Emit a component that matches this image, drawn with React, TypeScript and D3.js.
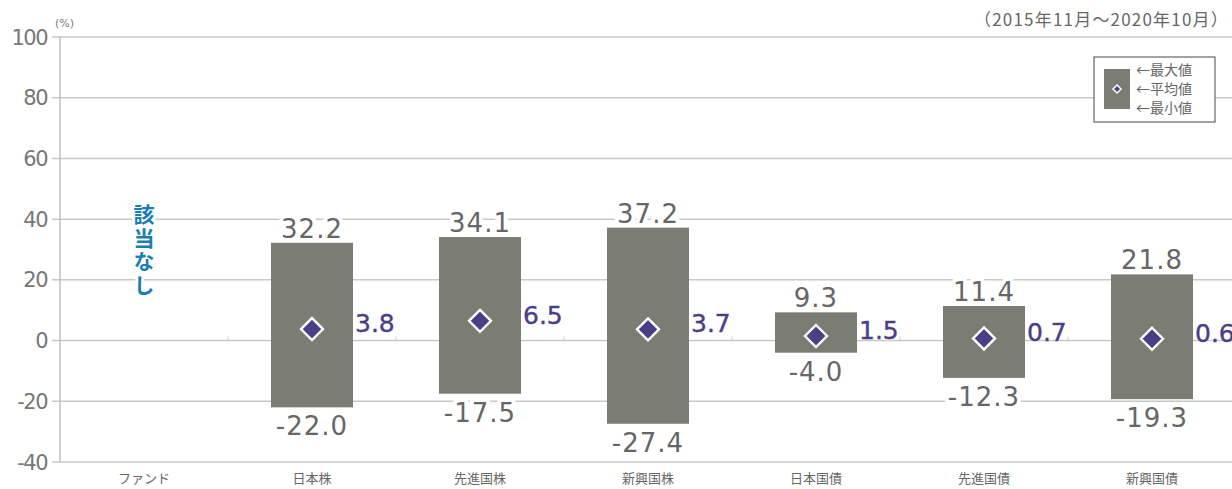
import React from "react";
import * as d3 from "d3";

const categories = ["ファンド", "日本株", "先進国株", "新興国株", "日本国債", "先進国債", "新興国債"];
const maxValues: (number | null)[] = [null, 32.2, 34.1, 37.2, 9.3, 11.4, 21.8];
const meanValues: (number | null)[] = [null, 3.8, 6.5, 3.7, 1.5, 0.7, 0.6];
const minValues: (number | null)[] = [null, -22.0, -17.5, -27.4, -4.0, -12.3, -19.3];
const yTicks = [100, 80, 60, 40, 20, 0, -20, -40];
const legendLabels = ["←最大値", "←平均値", "←最小値"];

const W = 1232, H = 489;
const FONT = "'DejaVu Sans', 'Noto Sans CJK JP', sans-serif";
const JFONT = "'Noto Sans CJK JP', sans-serif";

export default function App() {
  const x = d3.scaleBand<string>().domain(categories).range([60, 1236]).paddingInner(0).paddingOuter(0);
  const y = d3.scaleLinear().domain([-40, 100]).range([462, 37]);
  const barW = 82;
  const gray = "#7b7c74";
  const purple = "#4a3f87";
  const labelGray = "#666";

  const halo = { paintOrder: "stroke", stroke: "#fff", strokeWidth: 8, strokeLinejoin: "round" } as any;

  return (
    <svg width={W} height={H} style={{ position: "absolute", left: 0, top: 0, background: "#fff" }}>
      {/* gridlines */}
      {yTicks.map((t) => (
        <g key={t}>
          <line x1={52} x2={W} y1={y(t)} y2={y(t)} stroke="#c8c8c8" strokeWidth={1.5} />
          <text x={47} y={y(t)} dy="0.36em" textAnchor="end" fontFamily={FONT} fontSize={21} fill="#777" letterSpacing={-1.5}>
            {t}
          </text>
        </g>
      ))}
      <line x1={60} x2={60} y1={y(100)} y2={y(-40)} stroke="#c0c0c0" strokeWidth={1.5} />
      {/* small ticks on zero line at band boundaries */}
      {categories.slice(1).map((c) => (
        <line key={c} x1={x(c)!} x2={x(c)!} y1={y(0) - 4} y2={y(0) + 1} stroke="#c8c8c8" strokeWidth={1} />
      ))}
      <text x={55} y={27} fontFamily={FONT} fontSize={11} fill="#777">(%)</text>
      <text x={1229} y={26} textAnchor="end" fontFamily={JFONT} fontSize={17} fill="#666" letterSpacing={1.2}>
        （2015年11月～2020年10月）
      </text>

      {/* 該当なし */}
      <text
        x={x("ファンド")! + x.bandwidth() / 2}
        y={204}
        fontFamily={JFONT}
        fontWeight={700}
        fontSize={21}
        fill="#1a7db4"
        letterSpacing={2.5}
        style={{ writingMode: "vertical-rl" } as any}
        {...halo}
        strokeWidth={6}
      >
        該当なし
      </text>

      {/* bars */}
      {categories.map((c, i) => {
        const mx = maxValues[i], mn = minValues[i], me = meanValues[i];
        if (mx == null || mn == null || me == null) return null;
        const cx = x(c)! + x.bandwidth() / 2;
        const r = 11;
        return (
          <g key={c}>
            <rect x={cx - barW / 2} width={barW} y={y(mx)} height={y(mn) - y(mx)} fill={gray} />
            <text x={cx} y={y(mx) - 5} textAnchor="middle" fontFamily={FONT} fontSize={26} fill={labelGray} letterSpacing={1} {...halo}>
              {mx.toFixed(1)}
            </text>
            <text x={cx} y={y(mn) + 28} textAnchor="middle" fontFamily={FONT} fontSize={26} fill={labelGray} letterSpacing={1} {...halo}>
              {mn.toFixed(1)}
            </text>
            <path
              d={`M${cx},${y(me) - r}L${cx + r},${y(me)}L${cx},${y(me) + r}L${cx - r},${y(me)}Z`}
              fill={purple}
              stroke="#fff"
              strokeWidth={2.4}
            />
            <text x={cx + barW / 2 + 2} y={y(me) + 3} fontFamily={FONT} fontSize={25} fill={purple} stroke={purple} strokeWidth={0.4}>
              {me.toFixed(1)}
            </text>
          </g>
        );
      })}

      {/* category labels */}
      {categories.map((c) => (
        <text key={c} x={x(c)! + x.bandwidth() / 2} y={483} textAnchor="middle" fontFamily={JFONT} fontSize={13} fill="#666">
          {c}
        </text>
      ))}

      {/* legend */}
      <g>
        <rect x={1094} y={57} width={121} height={65} fill="#fff" stroke="#666" strokeWidth={1.2} />
        <rect x={1104} y={69} width={26} height={40} fill={gray} />
        <path d="M1117,85L1121,89L1117,93L1113,89Z" fill={purple} stroke="#fff" strokeWidth={1.5} />
        {legendLabels.map((t, i) => (
          <text key={t} x={1136} y={70 + i * 19} dy="0.36em" fontFamily={JFONT} fontSize={14} fill="#666">
            {t}
          </text>
        ))}
      </g>
    </svg>
  );
}
